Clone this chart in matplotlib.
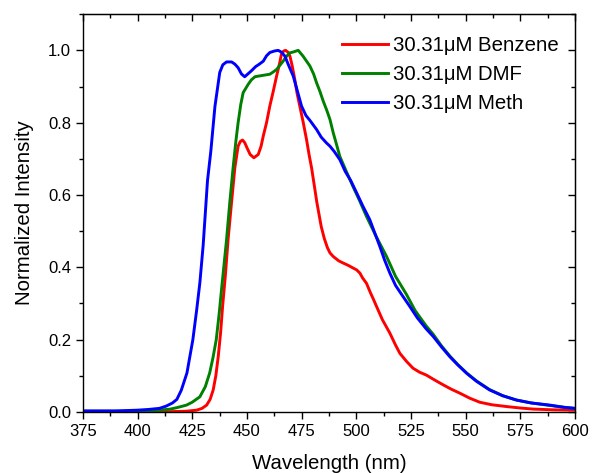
import numpy as np
import matplotlib.pyplot as plt
from matplotlib.ticker import MultipleLocator

plt.rcParams['font.family'] = ['Liberation Sans', 'DejaVu Sans']

# emission spectra, wavelength (nm) / normalized intensity
wl_benzene = [375, 400, 415, 422, 427, 429.5, 431.6, 433.2, 434.6, 435.8, 436.9, 438, 438.9, 440.2,
              441.4, 443, 444.5, 446, 447, 448, 449, 450.1, 451.5, 453.2, 455.2, 456.5, 457.5, 459,
              460.5, 462, 463.6, 465, 465.8, 466.8, 467.7, 468.8, 469.7, 470.8, 471.9, 473, 474.2,
              475.8, 477.3, 478.5, 479.6, 481, 482, 484, 485.4, 486.8, 488, 489.5, 492, 494, 496.5,
              498.6, 500.2, 501.7, 503, 504.7, 506.5, 508, 509.3, 512, 515.4, 518, 520, 523, 526,
              529, 532.1, 536, 539.8, 543.5, 547.4, 552, 556.5, 562, 568.8, 575, 581, 590, 600]
int_benzene = [0.001, 0.001, 0.001, 0.002, 0.005, 0.01, 0.019, 0.035, 0.061, 0.10, 0.153, 0.22, 0.292, 0.38,
               0.476, 0.58, 0.675, 0.735, 0.748, 0.752, 0.745, 0.730, 0.712, 0.703, 0.712, 0.735, 0.763, 0.80,
               0.846, 0.885, 0.929, 0.965, 0.989, 0.998, 1.0, 0.995, 0.984, 0.955, 0.92, 0.88, 0.846,
               0.80, 0.753, 0.71, 0.675, 0.62, 0.58, 0.513, 0.48, 0.455, 0.44, 0.43, 0.418, 0.412, 0.405,
               0.398, 0.393, 0.384, 0.37, 0.356, 0.33, 0.31, 0.292, 0.255, 0.218, 0.185, 0.162, 0.14, 0.121,
               0.11, 0.102, 0.088, 0.075, 0.063, 0.052, 0.038, 0.027, 0.02, 0.015, 0.011, 0.008, 0.006, 0.005]

wl_dmf = [375, 395, 405, 410, 415, 418, 422.4, 425, 428.5, 431, 433, 434.5, 436, 437.3, 438.4, 439.6,
          440.7, 442.2, 443.7, 445, 446, 447.2, 448.3, 450.6, 452, 453.7, 455.5, 457.5, 460.5, 462,
          463.6, 465, 466.6, 468.2, 469.7, 471.5, 473.5, 475.7, 477.3, 478.8, 480.5, 481.9, 483.5,
          484.9, 486.5, 488, 489.5, 491, 492.5, 495.5, 498.5, 501.5, 504.7, 509, 513.9, 518, 523, 527,
          532, 535.2, 539, 542.8, 546.5, 550.5, 555, 561, 567, 573.3, 580, 588.6, 595, 600]
int_dmf = [0.002, 0.002, 0.003, 0.005, 0.008, 0.012, 0.019, 0.027, 0.042, 0.07, 0.108, 0.15, 0.2, 0.27, 0.338, 0.41,
           0.476, 0.58, 0.675, 0.75, 0.80, 0.85, 0.883, 0.906, 0.918, 0.927, 0.929, 0.931, 0.934, 0.94,
           0.947, 0.958, 0.970, 0.984, 0.993, 0.996, 1.0, 0.984, 0.97, 0.957, 0.935, 0.910, 0.885,
           0.860, 0.835, 0.809, 0.772, 0.74, 0.707, 0.665, 0.624, 0.585, 0.541, 0.487, 0.43, 0.375, 0.325, 0.28,
           0.238, 0.215, 0.183, 0.155, 0.131, 0.108, 0.086, 0.062, 0.045, 0.033, 0.025, 0.018, 0.013, 0.010]

wl_meth = [375, 390, 400, 405, 410, 413, 416, 418, 420, 422.6, 425.3, 427, 428.5, 430, 432, 433.5, 435.4,
           437.6, 439, 440.7, 443, 444.5, 446, 447.5, 449, 450.5, 452, 454, 455.5, 457.5, 459, 460.5,
           462.5, 464.3, 465.8, 467.4, 469, 471.2, 473, 475, 477, 479, 481.9, 484, 486.4, 488, 490,
           492.5, 495, 497.5, 500.2, 503, 506.2, 508.5, 510.8, 513, 515.4, 518, 521, 524.5, 528, 532,
           535.2, 539, 542.8, 546.5, 550.5, 555, 561, 567, 573.3, 580, 588.6, 595, 600]
int_meth = [0.003, 0.003, 0.005, 0.007, 0.010, 0.016, 0.025, 0.035, 0.06, 0.108, 0.2, 0.28, 0.357, 0.46, 0.64, 0.72, 0.845,
            0.939, 0.96, 0.968, 0.968, 0.962, 0.952, 0.935, 0.927, 0.935, 0.943, 0.955, 0.961, 0.970, 0.985, 0.994,
            0.998, 1.0, 0.995, 0.984, 0.96, 0.929, 0.89, 0.846, 0.82, 0.805, 0.781, 0.76, 0.744, 0.735, 0.72,
            0.698, 0.665, 0.64, 0.606, 0.57, 0.532, 0.495, 0.458, 0.42, 0.384, 0.35, 0.323, 0.292, 0.26, 0.23,
            0.209, 0.18, 0.153, 0.13, 0.107, 0.085, 0.061, 0.045, 0.033, 0.025, 0.019, 0.013, 0.010]

fig = plt.figure(figsize=(5.92, 4.73), dpi=100)
ax = fig.add_axes([0.140, 0.129, 0.831, 0.841])

lw = 2.1
ax.plot(wl_benzene, int_benzene, color='#ff0000', lw=lw, label='30.31\u03bcM Benzene')
ax.plot(wl_dmf, int_dmf, color='#008000', lw=lw, label='30.31\u03bcM DMF')
ax.plot(wl_meth, int_meth, color='#0000ff', lw=lw, label='30.31\u03bcM Meth')

ax.set_xlim(375, 600)
ax.set_ylim(0, 1.1)
ax.xaxis.set_major_locator(MultipleLocator(25))
ax.xaxis.set_minor_locator(MultipleLocator(12.5))
ax.yaxis.set_major_locator(MultipleLocator(0.2))
ax.yaxis.set_minor_locator(MultipleLocator(0.1))
ax.yaxis.set_major_formatter(plt.FormatStrFormatter('%.1f'))

ax.tick_params(which='both', direction='out', top=False, right=False, labelsize=12, width=1)
ax.tick_params(which='major', length=5)
ax.tick_params(which='minor', length=3)
for s in ax.spines.values():
    s.set_linewidth(1)

# mirrored inward ticks on top and right
axt = ax.secondary_xaxis('top')
axt.xaxis.set_major_locator(MultipleLocator(25))
axt.xaxis.set_minor_locator(MultipleLocator(12.5))
axt.tick_params(which='both', direction='in', labeltop=False, width=1)
axt.tick_params(which='major', length=5)
axt.tick_params(which='minor', length=3)
axr = ax.secondary_yaxis('right')
axr.yaxis.set_major_locator(MultipleLocator(0.2))
axr.yaxis.set_minor_locator(MultipleLocator(0.1))
axr.tick_params(which='both', direction='in', labelright=False, width=1)
axr.tick_params(which='major', length=5)
axr.tick_params(which='minor', length=3)

ax.set_xlabel('Wavelength (nm)', fontsize=14.7, labelpad=11)
ax.set_ylabel('Normalized Intensity', fontsize=14.7, labelpad=10)

ax.legend(loc='upper left', frameon=False, fontsize=14.7, handlelength=2.25, handletextpad=0.25,
          labelspacing=0.48, bbox_to_anchor=(0.526, 0.945), borderaxespad=0, borderpad=0)

fig.savefig('out.png', dpi=100)
